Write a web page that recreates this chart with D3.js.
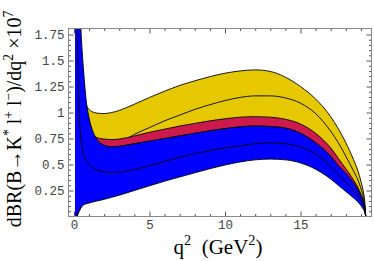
<!DOCTYPE html>
<html>
<head>
<meta charset="utf-8">
<script src="https://cdn.jsdelivr.net/npm/d3@7"></script>
<style>
body { margin: 0; background: #fff; }
</style>
</head>
<body>
<div id="chart"></div>
<script>
// q^2 grid (GeV^2) and the curves (x 10^-7)
const q2 = [0.07, 0.15, 0.25, 0.35, 0.45, 0.55, 0.65, 0.8, 1.0, 1.25,
    1.5, 2, 2.5, 3, 4, 5, 6, 7, 8, 9,
    10, 11, 12, 13, 14, 15, 16, 17, 17.5, 18,
    18.5, 18.8, 19.0, 19.15, 19.25, 19.32];

const yellowTop = [3.0, 2.4, 1.9, 1.6, 1.4, 1.26, 1.17, 1.08, 1.03, 1.005,
    0.995, 0.99, 1.0, 1.02, 1.08, 1.145, 1.205, 1.26, 1.305, 1.345,
    1.378, 1.40, 1.41, 1.395, 1.34, 1.25, 1.13, 0.96, 0.845, 0.71,
    0.55, 0.44, 0.34, 0.245, 0.15, 0];

const yellowMid = [2.5, 1.8, 1.3, 1.05, 0.92, 0.83, 0.78, 0.73, 0.69, 0.67,
    0.66, 0.655, 0.665, 0.70, 0.79, 0.855, 0.92, 0.975, 1.03, 1.075,
    1.115, 1.145, 1.16, 1.16, 1.14, 1.09, 0.99, 0.82, 0.71, 0.58,
    0.44, 0.35, 0.27, 0.195, 0.115, 0];

const redTop = [3.0, 2.2, 1.6, 1.3, 1.12, 1.0, 0.93, 0.86, 0.81, 0.78,
    0.76, 0.745, 0.74, 0.745, 0.775, 0.81, 0.84, 0.87, 0.895, 0.92,
    0.94, 0.955, 0.96, 0.955, 0.935, 0.89, 0.80, 0.66, 0.56, 0.46,
    0.355, 0.28, 0.215, 0.155, 0.09, 0];

const redBottom = [-0.3, -0.04, 0.015, 0.05, 0.085, 0.2, 0.3, 0.45, 0.62, 0.78,
    0.745, 0.685, 0.67, 0.675, 0.70, 0.725, 0.75, 0.775, 0.80, 0.825,
    0.845, 0.862, 0.87, 0.865, 0.85, 0.80, 0.71, 0.58, 0.49, 0.415,
    0.325, 0.257, 0.20, 0.145, 0.08, 0];

const blueTop = [8, 5, 3.2, 2.3, 1.85, 1.58, 1.38, 1.13, 0.95, 0.82,
    0.745, 0.685, 0.67, 0.675, 0.70, 0.725, 0.75, 0.775, 0.80, 0.825,
    0.845, 0.862, 0.87, 0.865, 0.85, 0.80, 0.71, 0.58, 0.49, 0.415,
    0.325, 0.257, 0.20, 0.145, 0.08, 0];

const blueMid = [6, 4, 1.6, 1.0, 0.78, 0.66, 0.6, 0.545, 0.5, 0.47,
    0.45, 0.43, 0.422, 0.427, 0.45, 0.49, 0.53, 0.57, 0.605, 0.635,
    0.66, 0.68, 0.70, 0.71, 0.70, 0.67, 0.60, 0.48, 0.40, 0.33,
    0.25, 0.2, 0.155, 0.11, 0.06, 0];

const blueBottom = [-0.1, -0.02, 0.03, 0.06, 0.08, 0.1, 0.112, 0.122, 0.13, 0.14,
    0.148, 0.165, 0.185, 0.205, 0.25, 0.295, 0.34, 0.38, 0.42, 0.46,
    0.495, 0.525, 0.545, 0.552, 0.545, 0.515, 0.455, 0.36, 0.30, 0.24,
    0.18, 0.14, 0.105, 0.072, 0.04, 0];

const xMajor = [0, 5, 10, 15];
const yMajor = [0.25, 0.5, 0.75, 1, 1.25, 1.5, 1.75];

const W = 374, H = 261;
const plot = {left: 68.5, right: 371.5, top: 28.5, bottom: 216.5};

const svg = d3.select("#chart").append("svg")
    .attr("width", W)
    .attr("height", H);

const x = d3.scaleLinear().domain([-0.36, 19.7]).range([plot.left, plot.right]);
const y = d3.scaleLinear().domain([0, 1.808]).range([plot.bottom, plot.top]);

svg.append("clipPath").attr("id", "clip")
    .append("rect")
    .attr("x", plot.left).attr("y", plot.top)
    .attr("width", plot.right - plot.left)
    .attr("height", plot.bottom - plot.top);

const g = svg.append("g").attr("clip-path", "url(#clip)");

// bands drawn in order: yellow, red, blue on top
const bands = [
    {hi: yellowTop, lo: redTop, fill: "#e5c800", lines: [yellowTop, yellowMid]},
    {hi: redTop, lo: redBottom, fill: "#cc1a4c", lines: [redTop, redBottom]},
    {hi: blueTop, lo: blueBottom, fill: "#0000ff", lines: [blueTop, blueMid, blueBottom]}
];

const area = d3.area()
    .x(d => x(d.q))
    .y0(d => y(d.lo))
    .y1(d => y(d.hi))
    .curve(d3.curveMonotoneX);

const line = d3.line()
    .x(d => x(d.q))
    .y(d => y(d.v))
    .curve(d3.curveMonotoneX);

bands.forEach(b => {
    g.append("path")
        .datum(q2.map((q, i) => ({q, lo: b.lo[i], hi: b.hi[i]})))
        .attr("fill", b.fill)
        .attr("d", area);
    b.lines.forEach(arr => {
        g.append("path")
            .datum(q2.map((q, i) => ({q, v: arr[i]})))
            .attr("fill", "none")
            .attr("stroke", "#000")
            .attr("stroke-width", 0.9)
            .attr("d", line);
    });
});

// frame ticks
const xMinor = d3.range(0, 20, 1).filter(v => !xMajor.includes(v));
const yMinor = d3.range(0.05, 1.8, 0.05).filter(v => !yMajor.some(m => Math.abs(m - v) < 1e-6));

function tickLayer(axisFn, scale, vals, size, pos, labels) {
    const a = axisFn(scale).tickValues(vals).tickSize(-size).tickPadding(4)
        .tickFormat(labels ? d3.format("") : "");
    const layer = svg.append("g")
        .attr("transform", pos)
        .call(a);
    layer.select(".domain").remove();
    layer.selectAll("line").attr("stroke", "#555");
    layer.selectAll("text")
        .attr("font-family", "Liberation Mono, Courier New, monospace")
        .attr("font-size", 12.5)
        .attr("fill", "#444");
    return layer;
}

tickLayer(d3.axisBottom, x, xMajor, 5, `translate(0,${plot.bottom})`, true);
tickLayer(d3.axisBottom, x, xMinor, 2.5, `translate(0,${plot.bottom})`, false);
tickLayer(d3.axisTop, x, xMajor, 5, `translate(0,${plot.top})`, false);
tickLayer(d3.axisTop, x, xMinor, 2.5, `translate(0,${plot.top})`, false);
tickLayer(d3.axisLeft, y, yMajor, 5, `translate(${plot.left},0)`, true);
tickLayer(d3.axisLeft, y, yMinor, 2.5, `translate(${plot.left},0)`, false);
tickLayer(d3.axisRight, y, yMajor, 5, `translate(${plot.right},0)`, false);
tickLayer(d3.axisRight, y, yMinor, 2.5, `translate(${plot.right},0)`, false);

svg.append("rect")
    .attr("x", plot.left).attr("y", plot.top)
    .attr("width", plot.right - plot.left)
    .attr("height", plot.bottom - plot.top)
    .attr("fill", "none")
    .attr("stroke", "#888")
    .attr("stroke-width", 1);

// axis titles with superscripts
function richText(sel, parts, size) {
    let up = 0;
    parts.forEach(([s, sup]) => {
        const shift = sup ? -size * 0.42 : 0;
        sel.append("tspan")
            .attr("dy", shift - up)
            .attr("font-size", sup ? size * 0.68 : size)
            .text(s);
        up = shift;
    });
}

const yTitle = svg.append("text")
    .attr("transform", "translate(21,119) rotate(-90)")
    .attr("text-anchor", "middle")
    .attr("font-family", "Liberation Serif, Times New Roman, serif")
    .attr("font-size", 20);
richText(yTitle, [["dBR(B\u2192K", false], ["*", true], [" l", false], ["+", true],
    [" l", false], ["\u2212", true], [")/dq", false], ["2", true], [" \u00d710", false], ["7", true]], 20);

const xTitle = svg.append("text")
    .attr("x", 218).attr("y", 254)
    .attr("text-anchor", "middle")
    .attr("font-family", "Liberation Serif, Times New Roman, serif")
    .attr("font-size", 21);
richText(xTitle, [["q", false], ["2", true], ["\u00a0\u00a0(GeV", false], ["2", true], [")", false]], 21);
</script>
</body>
</html>
